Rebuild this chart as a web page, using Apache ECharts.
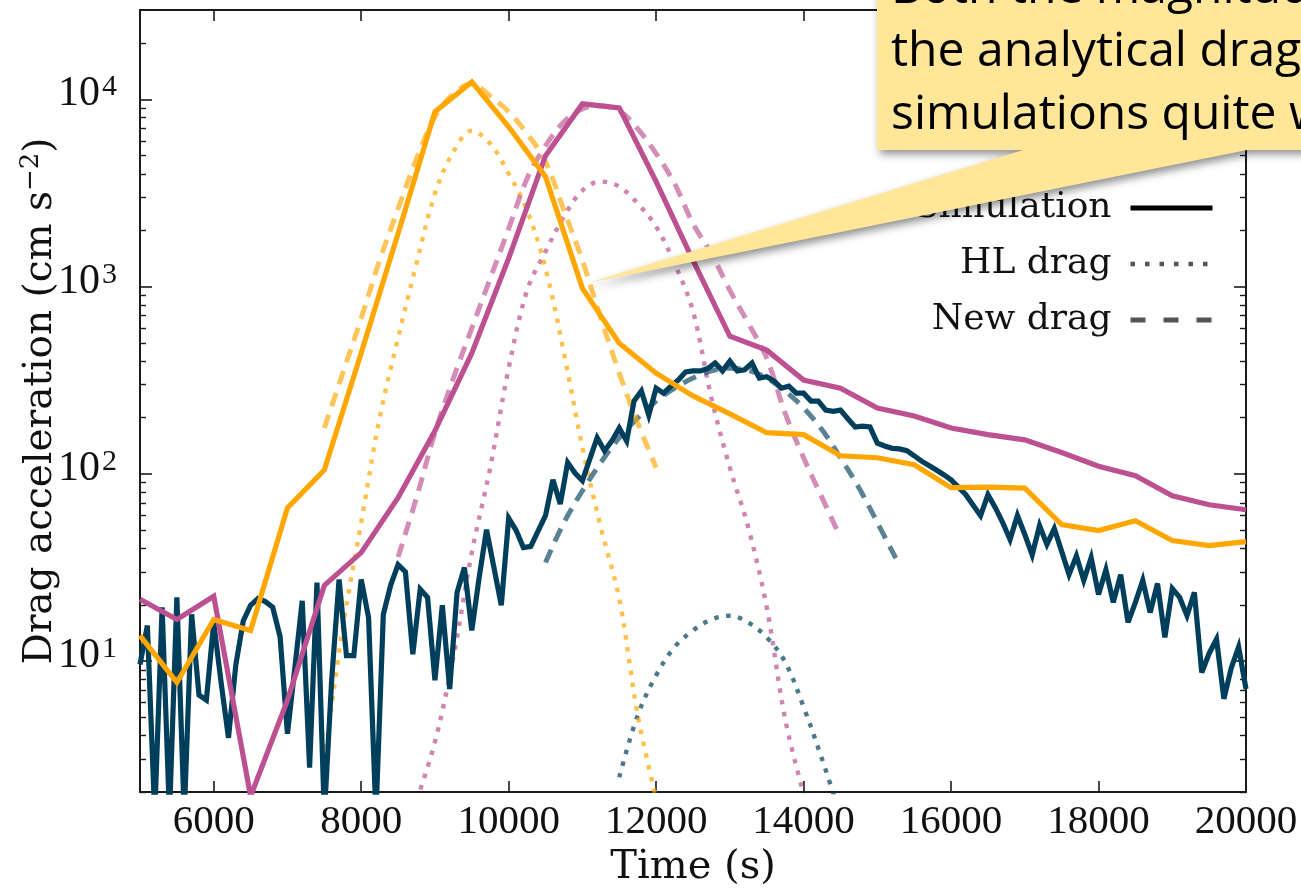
<!DOCTYPE html>
<html>
<head>
<meta charset="utf-8">
<script src="https://cdn.jsdelivr.net/npm/echarts@6/dist/echarts.min.js"></script>
<style>
  html, body { margin: 0; padding: 0; background: #ffffff; }
  #chart { width: 1301px; height: 893px; }
</style>
</head>
<body>
<div id="chart"></div>
<script>
// ---- Simulated drag acceleration (cm s^-2) ----
const simTime = [5000, 5500, 6000, 6500, 7000, 7500, 8000, 8500, 9000, 9500,
  10000, 10500, 11000, 11500, 12000, 12500, 13000, 13500, 14000, 14500,
  15000, 15500, 16000, 16500, 17000, 17500, 18000, 18500, 19000, 19500, 20000];
const simOrange = [13.7, 7.7, 16.7, 14.6, 65.9, 105, 442, 1923, 8580, 12400,
  7140, 3860, 979, 499, 345, 261, 209, 166, 162, 125,
  122, 112, 84.4, 85, 84, 53.6, 49.8, 56.2, 44.1, 41.4, 43.5];
const simMagenta = [21.4, 16.7, 22.2, 1.9, 6.2, 25.4, 38, 74.7, 170, 441,
  1417, 5000, 9460, 9010, 3640, 1380, 543, 458, 317, 287,
  225, 204, 176, 162, 152, 130, 110, 97.7, 76.4, 68.4, 64.4];

// third run is written out every 100 s from 5000 s to 20000 s
const simBlue = [
  9.6, 15.5, 1.5, 19.4, 1.5, 21.9, 1.5, 17.8, 6.6, 6.2,
  16.1, 7.7, 3.9, 9.6, 16.4, 19.9, 21.6, 20.8, 19.4, 13.5,
  4.1, 9.2, 21, 2.7, 26.3, 1.5, 8, 27.3, 10.7, 10.7,
  27.3, 17.1, 1.5, 17.8, 25.5, 32.8, 30, 10.9, 24.2, 21.9,
  7.9, 19.9, 7.1, 23.3, 31.6, 14.6, 28, 50.4, 31.6, 19.9,
  58, 50, 40.4, 41, 49.6, 60, 93, 69, 115, 101,
  92, 120, 156, 133, 150, 176, 150, 245, 277, 206,
  287, 270, 294, 317, 350, 355, 355, 365, 391, 355,
  400, 355, 360, 391, 325, 330, 313, 287, 294, 270,
  270, 245, 245, 219, 216, 219, 197, 178, 180, 178,
  146, 141, 137, 136, 133, 125, 117, 111, 105, 99,
  93, 85, 77.5, 68, 59.8, 77.5, 66, 55, 44.6, 60,
  47.5, 37, 53, 42, 51, 38.6, 29, 36.5, 27, 35.7,
  22.7, 30.8, 20.6, 29, 16.1, 20.6, 27, 18.2, 26, 13.4,
  24.4, 21.9, 17.5, 23.3, 8.7, 11, 13.1, 6.3, 9.2, 11.9,
  7.1];
const simBlueTime = simBlue.map((_, i) => 5000 + 100 * i);

// ---- New analytical drag ----
const newTimeOrange = [7500, 7750, 8000, 8250, 8500, 8750, 9000, 9250, 9500, 9750,
  10000, 10250, 10500, 10750, 11000, 11250, 11500, 11750, 12000];
const newOrange = [176, 345, 678, 1380, 2610, 4820, 8070, 10700, 12100, 10400,
  8580, 6550, 4640, 2550, 1380, 678, 345, 187, 108];
const newTimeMagenta = [8500, 8750, 9000, 9250, 9500, 9750, 10000, 10250, 10500, 10750,
  11000, 11250, 11500, 11750, 12000, 12250, 12500, 12750, 13000, 13250,
  13500, 13750, 14000, 14250, 14500];
const newMagenta = [36, 74.7, 166, 325, 600, 1106, 2042, 3776, 5650, 7590,
  8900, 9230, 8690, 6960, 5130, 3550, 2170, 1500, 955, 638,
  415, 211, 122, 74.7, 45.7];
const newTimeBlue = [10500, 10750, 11000, 11250, 11500, 11750, 12000, 12250, 12500, 12750,
  13000, 13250, 13500, 13750, 14000, 14250, 14500, 14750, 15000, 15250];
const newBlue = [33.7, 55, 81.3, 115, 156, 199, 245, 287, 325, 355,
  367, 358, 325, 277, 225, 172, 122, 84.4, 55, 35.5];

// ---- Hoyle-Lyttleton (HL) drag ----
const hlTimeOrange = [7500, 7750, 8000, 8250, 8500, 8750, 9000, 9250, 9500, 9750,
  10000, 10250, 10500, 10750, 11000, 11250, 11500, 11750, 12000];
const hlOrange = [2.97, 15.1, 55, 199, 531, 1330, 3140, 5250, 6800, 5800,
  4010, 2550, 1251, 441, 138, 51.7, 21.5, 5.15, 1.85];
const hlTimeMagenta = [8750, 9000, 9250, 9500, 9750, 10000, 10250, 10500, 10750, 11000,
  11250, 11500, 11750, 12000, 12250, 12500, 12750, 13000, 13250, 13500,
  13750, 14000];
const hlMagenta = [1.8, 3.7, 10.5, 38, 108, 367, 955, 1540, 2370, 3260,
  3640, 3420, 2780, 2090, 1330, 738, 254, 108, 51.7, 19.4,
  4.9, 1.95];
const hlTimeBlue = [11500, 11750, 12000, 12250, 12500, 12750, 13000, 13250, 13500, 13750,
  14000, 14250, 14500];
const hlBlue = [2.4, 5.15, 8.4, 11.9, 14.6, 16.7, 17.5, 16.1, 13.4, 9.9,
  5.7, 3.0, 1.5];

// ---- Axis ticks ----
const xTickValues = [6000, 8000, 10000, 12000, 14000, 16000, 18000, 20000];
const yMajorTicks = [10, 100, 1000, 10000];
const yMinorTicks = [2, 3, 4, 5, 6, 7, 8, 9, 20, 30, 40, 50, 60, 70, 80, 90,
  200, 300, 400, 500, 600, 700, 800, 900, 2000, 3000, 4000, 5000, 6000, 7000, 8000, 9000, 20000];

// ---- Labels ----
const xAxisTitle = 'Time (s)';
const yAxisTitle = 'Drag acceleration (cm s{sup|\u22122})';
const legendNames = ['Simulation', 'HL drag', 'New drag'];
const noteLines = ['Both the magnitude', 'the analytical drag', 'simulations quite well'];

const DIGITS = '"Liberation Serif", "DejaVu Serif", serif';
const WORDS = '"DejaVu Serif", "Liberation Serif", serif';
const INK = '#1a1a1a';
const BLUE = '#003f5c', MAGENTA = '#bc5090', ORANGE = '#ffa600';
const SOLID_W = 5.2, DASH = [14, 9], DOT = [4.5, 7.5];

function pairs(xs, ys) { return xs.map((x, i) => [x, ys[i]]); }

const solid = (name, xs, ys, color, z) => ({
  name, type: 'line', data: pairs(xs, ys), showSymbol: false, symbol: 'none',
  lineStyle: { color, width: SOLID_W, join: 'miter', miterLimit: 4 }, z, silent: true, animation: false
});
const dashed = (xs, ys, color) => ({
  type: 'line', data: pairs(xs, ys), showSymbol: false, symbol: 'none', smooth: 0.35,
  lineStyle: { color, width: 5, type: DASH, opacity: 0.65 }, z: 2, silent: true, animation: false
});
const dotted = (xs, ys, color) => ({
  type: 'line', data: pairs(xs, ys), showSymbol: false, symbol: 'none', smooth: 0.35,
  lineStyle: { color, width: 4.4, type: DOT, opacity: 0.7 }, z: 2, silent: true, animation: false
});
// empty series that only feed the legend keys
const legendOnly = (name, color, type, width) => ({
  name, type: 'line', data: [], symbol: 'none',
  itemStyle: { color: 'rgba(0,0,0,0)', borderWidth: 0 },
  lineStyle: { color, width, type }
});

const frameLine = { show: true, lineStyle: { color: INK, width: 2 } };

const chart = echarts.init(document.getElementById('chart'), null, { renderer: 'canvas' });
chart.setOption({
  backgroundColor: '#ffffff',
  animation: false,
  grid: { left: 140, right: 55, top: 10, bottom: 97, containLabel: false },
  xAxis: [
    {
      type: 'value', position: 'bottom', min: 5000, max: 20000,
      axisLine: frameLine,
      axisTick: { show: true, inside: true, length: 11, customValues: xTickValues, lineStyle: { color: INK, width: 1.6 } },
      axisLabel: { show: true, customValues: xTickValues, formatter: v => String(v),
        fontFamily: DIGITS, fontSize: 41, color: '#111', margin: 10 },
      splitLine: { show: false },
      name: xAxisTitle, nameLocation: 'middle', nameGap: 52,
      nameTextStyle: { fontFamily: WORDS, fontSize: 40, color: '#111' }
    },
    {
      type: 'value', position: 'top', min: 5000, max: 20000,
      axisLine: frameLine,
      axisTick: { show: true, inside: true, length: 11, customValues: xTickValues, lineStyle: { color: INK, width: 1.6 } },
      axisLabel: { show: false }, splitLine: { show: false }
    }
  ],
  yAxis: [
    {
      type: 'log', position: 'left', min: 2, max: 30000, logBase: 10,
      axisLine: frameLine,
      axisTick: { show: true, inside: true, length: 12, customValues: yMajorTicks, lineStyle: { color: INK, width: 1.6 } },
      axisLabel: {
        show: true, customValues: yMajorTicks, margin: 23, padding: [0, 0, 10, 0],
        formatter: v => '{b|10}{s|' + Math.round(Math.log10(v)) + '}',
        rich: {
          b: { fontFamily: DIGITS, fontSize: 42, color: '#111', lineHeight: 44 },
          s: { fontFamily: DIGITS, fontSize: 30, color: '#111', verticalAlign: 'top', lineHeight: 30, padding: [0, 0, 0, 2] }
        }
      },
      splitLine: { show: false },
      name: yAxisTitle, nameLocation: 'middle', nameGap: 76, nameRotate: 90, nameMoveOverlap: false,
      nameTextStyle: {
        fontFamily: WORDS, fontSize: 39, color: '#111', lineHeight: 46,
        rich: { sup: { fontFamily: WORDS, fontSize: 26, color: '#111', verticalAlign: 'top', lineHeight: 30 } }
      }
    },
    {
      type: 'log', position: 'left', min: 2, max: 30000, logBase: 10,
      axisLine: { show: false },
      axisTick: { show: true, inside: true, length: 6, customValues: yMinorTicks, lineStyle: { color: INK, width: 1.4 } },
      axisLabel: { show: false }, splitLine: { show: false }
    },
    {
      type: 'log', position: 'right', min: 2, max: 30000, logBase: 10,
      axisLine: frameLine,
      axisTick: { show: true, inside: true, length: 12, customValues: yMajorTicks, lineStyle: { color: INK, width: 1.6 } },
      axisLabel: { show: false }, splitLine: { show: false }
    },
    {
      type: 'log', position: 'right', min: 2, max: 30000, logBase: 10,
      axisLine: { show: false },
      axisTick: { show: true, inside: true, length: 6, customValues: yMinorTicks, lineStyle: { color: INK, width: 1.4 } },
      axisLabel: { show: false }, splitLine: { show: false }
    }
  ],
  legend: {
    show: true, orient: 'vertical', right: 81, top: 182, align: 'right',
    itemWidth: 82, itemHeight: 14, itemGap: 14,
    itemStyle: { color: 'rgba(0,0,0,0)', borderWidth: 0 },
    textStyle: { fontFamily: WORDS, fontSize: 36, color: '#111', lineHeight: 42, padding: [0, 14, 0, 0] },
    data: [
      { name: legendNames[0], lineStyle: { color: '#000000', width: 5, type: 'solid' } },
      { name: legendNames[1], lineStyle: { color: '#555555', width: 4.4, type: [4.5, 10] } },
      { name: legendNames[2], lineStyle: { color: '#555555', width: 5, type: [15, 18] } }
    ],
    selectedMode: false
  },
  series: [
    dotted(hlTimeBlue, hlBlue, BLUE),
    dotted(hlTimeMagenta, hlMagenta, MAGENTA),
    dotted(hlTimeOrange, hlOrange, ORANGE),
    dashed(newTimeBlue, newBlue, BLUE),
    dashed(newTimeMagenta, newMagenta, MAGENTA),
    dashed(newTimeOrange, newOrange, ORANGE),
    solid('blue-run', simBlueTime, simBlue, BLUE, 3),
    solid('magenta-run', simTime, simMagenta, MAGENTA, 4),
    solid('orange-run', simTime, simOrange, ORANGE, 5),
    legendOnly(legendNames[0], '#000000', 'solid', 5),
    legendOnly(legendNames[1], '#555555', [4.5, 10], 4.4),
    legendOnly(legendNames[2], '#555555', [15, 18], 5)
  ],
  graphic: [
    {
      type: 'polygon', z: 100, silent: true,
      shape: { points: [[877, -30], [1330, -30], [1330, 150], [1247, 150], [588, 283], [1023, 150], [877, 150]] },
      style: { fill: '#ffe699', shadowBlur: 8, shadowOffsetX: 3, shadowOffsetY: 4, shadowColor: 'rgba(0,0,0,0.45)' }
    },
    {
      type: 'text', z: 101, silent: true, left: 891, top: -42,
      style: {
        text: noteLines.join('\n'), fill: '#000000',
        font: '48px "Open Sans", "Noto Sans", sans-serif', lineHeight: 63
      }
    }
  ]
});
</script>
</body>
</html>
